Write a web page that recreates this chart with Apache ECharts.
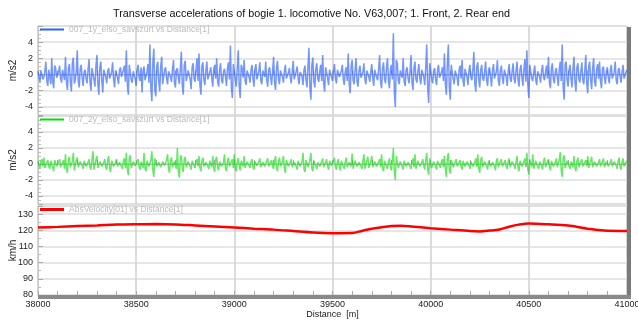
<!DOCTYPE html>
<html>
<head>
<meta charset="utf-8">
<script src="https://cdn.jsdelivr.net/npm/echarts@6/dist/echarts.min.js"></script>
<style>
  html, body { margin: 0; padding: 0; background: #fff; }
  #chart { width: 638px; height: 320px; }
</style>
</head>
<body>
<div id="chart"></div>
<script>
// both acceleration channels are sampled every 5 m from 38000 m
var distStart = 38000;
var distStep = 5;

var name1 = "007_1y_elso_savszurt vs Distance[1]";
var name2 = "007_2y_elso_savszurt vs Distance[1]";
var name3 = "AbsVelocity[01] vs Distance[1]";

// front bogie transverse acceleration, m/s2
var acc1 = [
  0.4,-0.3,-0.9,0.5,0.7,-0.6,-0.3,0.4,1.6,-0.8,-1.4,0.6,0.5,-1.2,2.0,-0.9,-1.7,1.1,0.8,-0.4,
  -0.6,0.3,1.1,-0.5,-1.0,0.6,0.4,-0.7,2.2,-1.0,-1.9,0.8,1.3,-0.9,-2.1,1.4,2.1,-1.1,-0.7,0.5,
  3.0,-0.8,-1.6,0.7,1.2,-0.4,-1.4,0.3,0.6,-0.5,-1.1,0.6,1.9,-1.0,-2.0,0.8,0.9,-0.6,-1.5,1.0,
  2.4,-1.2,-2.5,0.9,1.6,-0.7,-2.2,0.6,0.5,-0.3,-1.1,0.4,0.8,-0.5,-0.4,0.3,1.5,-0.6,-1.6,0.5,
  0.7,-0.4,-1.2,0.5,0.9,-0.3,-0.5,0.6,1.1,-0.9,3.0,-1.3,-2.5,1.2,1.4,-0.7,-1.0,0.4,0.6,-0.5,
  -1.4,0.6,1.2,-0.4,-0.8,0.9,-2.2,0.5,1.0,-0.7,-0.6,0.3,1.3,-1.0,3.7,-1.8,-3.3,1.5,3.2,-1.9,
  -2.7,1.1,1.6,-0.9,-2.1,1.0,2.2,-1.2,-1.4,0.6,0.9,-0.5,-1.2,0.4,0.4,-0.3,-0.9,0.7,1.8,-1.0,
  -1.6,0.5,0.8,-0.4,-1.2,0.7,2.8,-1.4,-2.5,1.2,1.7,-0.8,-1.0,0.5,0.6,-0.6,-1.8,0.9,1.4,-0.5,
  -0.9,0.6,2.0,-0.8,2.6,-1.4,-2.5,1.1,1.5,-0.7,-1.3,0.5,1.6,-0.6,-0.5,0.3,0.9,-0.4,-1.5,0.7,
  1.2,-0.5,2.0,-0.9,-1.5,0.6,1.4,-0.7,-1.1,0.4,0.7,-0.3,-1.4,0.8,1.5,-0.6,3.6,-1.7,-2.9,1.3,
  1.1,-0.6,-1.5,0.8,3.0,-1.5,-2.9,1.2,0.8,-0.4,1.8,-0.8,-1.3,0.5,0.6,-0.3,-1.0,0.6,1.2,-0.5,
  -1.5,0.7,1.3,-0.6,-0.7,0.4,1.5,-0.8,-1.2,0.5,0.4,-0.3,1.6,-0.7,-1.5,0.6,0.9,-0.4,-1.3,0.5,
  2.2,-1.0,-1.9,0.9,1.7,-0.6,-1.2,0.5,0.6,-0.3,-1.0,0.4,1.2,-0.5,-0.5,0.2,0.8,-0.4,-1.1,0.5,
  1.7,-0.6,-0.8,0.4,1.0,-0.5,-1.2,0.3,0.5,-0.2,-1.3,0.6,1.1,-0.7,-1.6,1.0,3.3,-1.6,-3.1,1.2,
  2.1,-0.9,-1.6,0.7,1.4,-0.5,-0.9,0.4,1.2,-0.8,2.4,-1.1,-2.1,0.9,1.0,-0.4,-1.3,0.6,0.5,-0.3,
  -0.8,0.4,1.3,-0.5,-1.1,0.6,0.7,-0.3,-0.4,0.5,1.2,-0.6,-1.3,0.4,0.9,-0.8,2.6,-1.2,-2.3,1.0,
  1.8,-0.7,-1.2,0.6,2.0,-0.9,-1.5,0.5,1.1,-0.4,-0.6,0.3,1.4,-0.6,-1.2,0.5,0.5,-0.3,-0.9,0.4,
  1.3,-0.5,-1.4,0.6,0.8,-0.4,-0.7,0.7,2.4,-1.0,-1.7,0.8,1.5,-0.6,-1.1,0.9,2.0,-0.8,-1.7,0.7,
  1.2,-0.6,5.1,-2.2,-4.0,1.8,1.4,-0.7,-1.2,0.5,0.7,-0.4,2.0,-0.9,-1.4,0.6,0.9,-0.5,-1.1,0.4,
  2.4,-1.0,-1.9,0.8,1.6,-0.6,-1.0,0.4,1.3,-0.5,-1.2,0.6,0.6,-0.3,-1.3,0.9,3.7,-1.7,-3.5,1.4,
  1.3,-0.5,-1.1,0.4,0.8,-0.6,-1.3,0.5,1.2,-0.4,-0.6,0.3,0.9,-0.8,2.6,-1.2,-2.5,1.4,3.7,-1.6,
  -3.1,1.2,1.4,-0.6,-1.2,0.5,0.6,-0.4,-1.4,0.6,1.1,-0.5,1.8,-0.8,-1.5,0.7,0.8,-0.3,-1.3,0.5,
  1.2,-0.4,-0.7,0.6,2.8,-1.2,-2.1,1.0,1.5,-0.7,-1.6,0.6,1.2,-0.5,-0.8,0.4,1.6,-0.7,-1.4,0.6,
  0.9,-0.3,-1.5,0.6,1.3,-0.5,-0.6,0.4,1.8,-0.8,-1.4,0.5,1.1,-0.4,-1.2,0.6,0.7,-0.3,-1.4,0.5,
  1.3,-0.5,-0.9,0.4,1.4,-0.6,-1.1,0.5,1.6,-0.7,-1.5,0.6,1.2,-0.4,-1.4,0.7,1.9,-0.9,3.0,-1.3,
  -2.9,1.2,1.3,-0.5,-0.8,0.3,1.1,-0.6,-1.3,0.4,0.5,-0.3,-1.0,0.5,1.2,-0.4,-0.7,0.3,1.1,-0.5,
  2.2,-1.0,-1.7,0.8,1.4,-0.6,-1.1,0.4,0.8,-0.3,-1.4,0.6,1.6,-0.8,3.7,-1.6,-3.1,1.3,1.6,-0.7,
  -1.5,0.6,1.2,-0.5,-1.6,0.8,2.2,-1.0,-2.1,0.9,1.4,-0.6,-1.0,0.4,1.5,-0.7,-1.2,0.5,2.4,-1.1,
  -2.3,1.0,1.6,-0.7,-1.8,0.8,2.0,-0.9,-1.5,0.6,1.3,-0.5,1.6,-0.8,-1.7,0.7,1.0,-0.4,-1.2,0.5,
  0.9,-0.4,-1.1,0.5,1.2,-0.5,-0.6,0.3,1.6,-0.7,-1.2,0.5,0.8,-0.3,-1.0,0.4,1.2,-0.5,-0.7,0.3,0.6
];

// rear bogie transverse acceleration, m/s2
var acc2 = [
  0.3,-0.2,-0.5,0.3,0.6,-0.3,0.8,-0.5,-0.4,0.2,0.5,-0.3,-0.6,0.4,0.3,-0.4,-0.9,0.5,0.5,-0.3,
  -0.4,0.3,0.6,-0.4,-0.3,0.2,0.5,-0.6,1.2,-0.7,-1.1,0.6,0.9,-0.4,-0.5,0.3,1.4,-0.8,-0.9,0.5,
  0.8,-0.4,-0.5,0.3,0.4,-0.2,-0.6,0.4,0.5,-0.3,-0.3,0.2,0.6,-0.4,-0.7,0.6,1.6,-0.7,-0.9,0.5,
  1.0,-0.5,-0.6,0.3,0.4,-0.3,-0.5,0.2,0.6,-0.4,-0.7,0.5,1.0,-0.6,-1.0,0.4,0.5,-0.3,-0.4,0.2,
  0.6,-0.3,-0.5,0.2,0.3,-0.3,-0.6,0.4,0.7,-0.5,1.4,-0.7,-1.4,0.8,1.1,-0.5,-0.6,0.3,0.5,-0.2,
  -0.4,0.3,0.6,-0.4,-0.7,0.3,0.5,-0.5,1.4,-0.6,-0.9,0.4,0.6,-0.3,-0.5,0.5,1.6,-0.8,-1.6,0.7,
  0.7,-0.3,-0.5,0.2,0.4,-0.4,-0.6,0.3,0.5,-0.2,-0.4,0.5,1.2,-0.6,-1.1,0.5,0.8,-0.4,-0.6,0.3,
  0.5,-0.6,2.0,-1.0,-1.7,0.8,1.1,-0.5,-1.0,0.6,0.9,-0.4,-0.6,0.3,0.5,-0.3,-0.7,0.4,0.4,-0.2,
  -0.5,0.3,0.6,-0.3,1.0,-0.5,-0.9,0.4,0.8,-0.3,-0.5,0.2,0.4,-0.3,-0.6,0.4,0.5,-0.4,1.0,-0.5,
  -1.0,0.5,0.9,-0.4,-0.8,0.3,0.5,-0.3,-0.4,0.2,1.2,-0.6,-0.9,0.4,0.8,-0.3,-0.5,0.3,0.6,-0.5,
  1.2,-0.6,-0.9,0.4,0.7,-0.3,-0.8,0.4,0.5,-0.3,1.0,-0.5,-0.6,0.3,0.4,-0.2,-0.5,0.3,0.6,-0.4,
  -0.7,0.3,0.5,-0.2,-0.4,0.3,0.7,-0.4,-0.6,0.2,0.3,-0.3,-0.5,0.4,0.7,-0.3,-0.4,0.2,0.5,-0.3,
  -0.6,0.4,1.0,-0.5,-0.9,0.4,0.8,-0.3,-0.5,0.3,1.0,-0.6,-1.1,0.5,0.5,-0.3,-0.4,0.2,0.6,-0.4,
  -0.5,0.2,0.4,-0.3,-0.7,0.4,0.6,-0.3,-0.5,0.3,1.4,-0.7,-1.0,0.5,0.7,-0.4,-0.6,0.5,1.4,-0.6,
  -0.9,0.4,0.5,-0.3,-0.6,0.2,0.4,-0.3,-0.5,0.3,0.7,-0.4,-0.4,0.2,0.6,-0.3,-0.7,0.4,0.5,-0.2,
  -0.4,0.3,0.8,-0.4,-0.7,0.3,0.6,-0.4,-0.8,0.4,0.5,-0.3,-0.6,0.3,0.8,-0.4,-0.5,0.2,0.4,-0.3,
  1.3,-0.6,-0.8,0.4,0.6,-0.3,-0.5,0.2,0.4,-0.3,-0.6,0.4,1.2,-0.6,-0.8,0.4,0.9,-0.5,-0.7,0.3,
  1.0,-0.4,-0.6,0.3,0.5,-0.3,-0.4,0.3,0.6,-0.4,1.2,-0.6,-0.9,0.4,0.5,-0.3,-0.6,0.3,0.7,-0.4,
  -0.8,0.4,2.0,-1.0,-2.0,1.0,0.9,-0.5,-0.6,0.3,0.5,-0.3,-0.7,0.4,0.6,-0.3,-0.5,0.2,0.4,-0.3,
  -0.6,0.3,0.7,-0.4,1.2,-0.6,-0.8,0.4,0.5,-0.3,-0.4,0.2,0.6,-0.3,-0.7,0.5,1.4,-0.7,-1.35,0.7,
  0.9,-0.5,-0.6,0.3,0.5,-0.3,-0.7,0.4,0.4,-0.2,-0.5,0.3,0.6,-0.4,1.0,-0.6,-1.6,0.8,1.4,-0.7,
  -1.2,0.5,0.7,-0.4,-0.5,0.3,0.6,-0.3,-0.4,0.2,0.5,-0.3,-0.7,0.4,0.6,-0.3,-0.5,0.3,0.4,-0.2,
  -0.6,0.3,0.5,-0.3,-0.4,0.2,0.7,-0.4,1.2,-0.6,-1.1,0.5,0.9,-0.4,-0.6,0.3,0.5,-0.3,-0.7,0.4,
  0.6,-0.3,-0.5,0.2,0.4,-0.3,-0.8,0.4,0.7,-0.4,-0.5,0.3,0.6,-0.3,-0.4,0.2,0.5,-0.3,-0.6,0.3,
  0.7,-0.4,-0.5,0.3,0.4,-0.2,-0.6,0.3,1.0,-0.5,-0.9,0.4,0.6,-0.3,-0.5,0.3,0.7,-0.4,1.4,-0.7,
  -1.3,0.6,0.6,-0.4,1.2,-0.6,-0.8,0.4,0.5,-0.3,-0.6,0.3,0.4,-0.2,-0.7,0.4,0.8,-0.4,-0.5,0.3,
  0.6,-0.3,-0.8,0.4,0.5,-0.3,-0.4,0.2,0.7,-0.4,-0.6,0.5,1.5,-0.8,-1.6,0.7,1.1,-0.5,-0.7,0.4,
  0.5,-0.3,-0.6,0.3,0.4,-0.4,1.0,-0.5,-0.9,0.4,0.8,-0.4,-0.5,0.3,0.6,-0.3,-0.4,0.2,0.5,-0.3,
  1.0,-0.5,-0.7,0.4,0.9,-0.4,-0.6,0.3,0.5,-0.3,-0.4,0.2,0.6,-0.3,-0.5,0.3,0.7,-0.4,-0.6,0.3,
  0.5,-0.3,-0.4,0.2,0.6,-0.3,-0.5,0.3,0.4,-0.2,-0.6,0.4,0.8,-0.4,-0.7,0.3,0.7,-0.3,-0.5,0.2,0.4
];

// speed, km/h
var velDist = [38000,38100,38200,38300,38400,38500,38600,38700,38800,38900,
  39000,39100,39200,39300,39400,39500,39600,39650,39700,39800,39850,39900,
  40000,40100,40200,40250,40300,40350,40400,40450,40500,40600,40700,40800,40900,41000];
var velKmh = [121.7,122.1,122.6,123.0,123.5,123.7,123.8,123.6,123.0,122.4,
  121.7,121.0,120.4,119.5,118.6,118.2,118.3,119.6,121.0,122.6,122.8,122.4,
  121.3,120.4,119.5,119.3,119.8,120.5,122.2,123.5,124.2,123.7,122.9,121.0,119.7,119.6];

var FONT = "Liberation Sans";

function pairs(vals) {
  return vals.map(function (v, i) { return [distStart + i * distStep, v]; });
}

function makeGrid(top, height) {
  return { left: 38, right: 11, top: top, height: height, show: true,
    containLabel: false, outerBoundsMode: "none",
    borderColor: "#d0d0d0", borderWidth: 1 };
}

function makeX(gi, withLabels) {
  return {
    type: "value", gridIndex: gi, min: 38000, max: 41000, interval: 500,
    name: withLabels ? "Distance  [m]" : "",
    nameLocation: "middle", nameGap: 14,
    nameTextStyle: { fontFamily: FONT, fontSize: 9, color: "#222" },
    axisLine: { show: true, lineStyle: { color: "#c8c8c8" } },
    axisTick: { show: true, inside: true, length: 4, lineStyle: { color: "#aaa" } },
    minorTick: { show: true, splitNumber: 5, length: 4, lineStyle: { color: "#aaa" } },
    axisLabel: { show: withLabels, fontFamily: FONT, fontSize: 9, color: "#222", margin: 5,
      formatter: function (v) { return String(v); } },
    splitLine: { show: true, lineStyle: { color: "#cfcfcf", width: 1.5 } }
  };
}

function makeY(gi, min, max, name, minorSplit, showMin) {
  return {
    type: "value", gridIndex: gi, min: min, max: max,
    name: name, nameLocation: "middle", nameGap: 20, nameRotate: 90,
    nameMoveOverlap: false,
    nameTextStyle: { fontFamily: FONT, fontSize: 10, color: "#222" },
    axisLine: { show: true, lineStyle: { color: "#c8c8c8" } },
    axisTick: { show: true, inside: true, length: 5, lineStyle: { color: "#aaa" } },
    minorTick: { show: true, splitNumber: minorSplit, length: 3, lineStyle: { color: "#bbb" } },
    axisLabel: { showMinLabel: showMin, showMaxLabel: false,
      fontFamily: FONT, fontSize: 9, color: "#222", margin: 5 },
    splitLine: { show: true, lineStyle: { color: "#dedede", width: 1.5 } }
  };
}

function makeLegend(name, top, h) {
  return {
    data: [name], left: 38, top: top, padding: [2, 2], icon: "rect",
    itemWidth: 24, itemHeight: h, selectedMode: false,
    textStyle: { fontFamily: FONT, fontSize: 8.5, color: "#bbbbbb" }
  };
}

var chart = echarts.init(document.getElementById("chart"));
chart.setOption({
  animation: false,
  backgroundColor: "#fff",
  title: {
    text: "Transverse accelerations of bogie 1. locomotive No. V63,007; 1. Front, 2. Rear end",
    left: 113, top: 9, padding: 0,
    textStyle: { fontFamily: FONT, fontSize: 10.8, fontWeight: "normal", color: "#111" }
  },
  legend: [
    makeLegend(name1, 23, 2),
    makeLegend(name2, 113, 2),
    makeLegend(name3, 203, 3)
  ],
  grid: [makeGrid(26, 89), makeGrid(116, 88), makeGrid(206, 89)],
  xAxis: [makeX(0, false), makeX(1, false), makeX(2, true)],
  yAxis: [
    makeY(0, -5, 6, "m/s2", 4, false),
    makeY(1, -5, 6, "m/s2", 4, false),
    makeY(2, 80, 135, "km/h", 2, true)
  ],
  series: [
    { name: name1, type: "line", xAxisIndex: 0, yAxisIndex: 0, data: pairs(acc1),
      showSymbol: false, color: "#2d5fff",
      lineStyle: { color: "rgba(30,85,255,0.62)", width: 1.5 } },
    { name: name2, type: "line", xAxisIndex: 1, yAxisIndex: 1, data: pairs(acc2),
      showSymbol: false, color: "#00e000",
      lineStyle: { color: "rgba(0,215,0,0.6)", width: 1.5 } },
    { name: name3, type: "line", xAxisIndex: 2, yAxisIndex: 2,
      data: velDist.map(function (d, i) { return [d, velKmh[i]]; }),
      showSymbol: false, smooth: 0.3, color: "#ff0000",
      lineStyle: { color: "#ff0000", width: 2.5 } }
  ],
  graphic: [
    { type: "rect", shape: { x: 627, y: 27, width: 4, height: 272 },
      style: { fill: "#7a7a7a" }, z: 100 },
    { type: "rect", shape: { x: 38, y: 295, width: 593, height: 4 },
      style: { fill: "#8a8a8a" }, z: 100 }
  ]
});
</script>
</body>
</html>
